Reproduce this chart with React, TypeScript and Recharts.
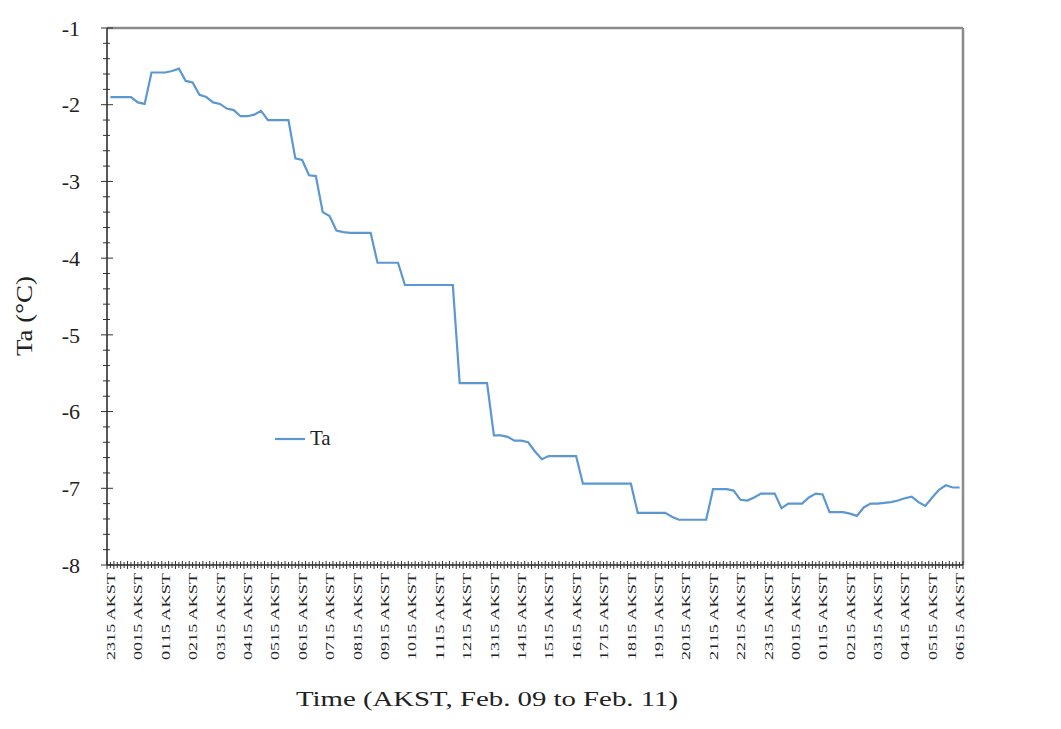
import React from "react";
import { LineChart, Line, XAxis, YAxis, ReferenceLine, Legend } from "recharts";

// hourly tick labels, one every 4 samples (15-min data)
const hourLabels = [
  "2315", "0015", "0115", "0215", "0315", "0415", "0515", "0615",
  "0715", "0815", "0915", "1015", "1115", "1215", "1315", "1415",
  "1515", "1615", "1715", "1815", "1915", "2015", "2115", "2215",
  "2315", "0015", "0115", "0215", "0315", "0415", "0515", "0615",
];

// air temperature (°C), 15-minute samples
const ta = [
  -1.9, -1.9, -1.9, -1.9, -1.97, -1.99, -1.58, -1.58, -1.58, -1.56,
  -1.53, -1.69, -1.71, -1.87, -1.9, -1.97, -1.99, -2.05, -2.07, -2.15,
  -2.15, -2.13, -2.08, -2.2, -2.2, -2.2, -2.2, -2.7, -2.72, -2.92,
  -2.93, -3.4, -3.45, -3.64, -3.66, -3.67, -3.67, -3.67, -3.67, -4.06,
  -4.06, -4.06, -4.06, -4.35, -4.35, -4.35, -4.35, -4.35, -4.35, -4.35,
  -4.35, -5.63, -5.63, -5.63, -5.63, -5.63, -6.31, -6.31, -6.33, -6.38,
  -6.38, -6.4, -6.52, -6.62, -6.58, -6.58, -6.58, -6.58, -6.58, -6.94,
  -6.94, -6.94, -6.94, -6.94, -6.94, -6.94, -6.94, -7.32, -7.32, -7.32,
  -7.32, -7.32, -7.37, -7.41, -7.41, -7.41, -7.41, -7.41, -7.01, -7.01,
  -7.01, -7.03, -7.15, -7.16, -7.12, -7.07, -7.07, -7.07, -7.26, -7.2,
  -7.2, -7.2, -7.12, -7.07, -7.08, -7.31, -7.31, -7.31, -7.33, -7.36,
  -7.25, -7.2, -7.2, -7.19, -7.18, -7.16, -7.13, -7.11, -7.18, -7.23,
  -7.12, -7.02, -6.96, -6.99, -6.99,
];

const data = ta.map((v, i) => ({ i, ta: v }));
const n = ta.length;

// ticks at every slot boundary and slot centre
const xTicks: number[] = [];
for (let k = 0; k <= 2 * n; k++) xTicks.push(-0.5 + k * 0.5);
const yMinor: number[] = [];
for (let k = 0; k <= 35; k++) yMinor.push(Math.round((-8 + k * 0.2) * 10) / 10);

const serif = "'Liberation Serif', 'Times New Roman', serif";
const LINE = "#5b97d2";

const XTick = (props: any) => {
  const { x, y, payload } = props;
  const v = payload.value;
  const isCenter = Number.isInteger(v);
  const showLabel = isCenter && v % 4 === 0;
  return (
    <g>
      <line x1={x} x2={x} y1={y - (isCenter ? 3 : 4)} y2={y + (isCenter ? 3 : 4)} stroke="#333" strokeWidth={1} />
      {showLabel && (
        <text
          x={x}
          y={y + 8}
          transform={`rotate(-90, ${x}, ${y + 8})`}
          textAnchor="end"
          dy="0.36em"
          fontFamily={serif}
          fontSize={13}
          fill="#222"
          textLength={87}
          lengthAdjust="spacingAndGlyphs"
        >
          {hourLabels[v / 4] + " AKST"}
        </text>
      )}
    </g>
  );
};

const YTick = (props: any) => {
  const { x, y, payload } = props;
  const v = payload.value;
  const major = Math.abs(v - Math.round(v)) < 1e-6;
  return (
    <g>
      <line x1={x - (major ? 6 : 4)} x2={x + (major ? 6 : 3)} y1={y} y2={y} stroke="#333" strokeWidth={1} />
      {major && (
        <text x={x - 27} y={y} dy="0.35em" textAnchor="end" fontFamily={serif} fontSize={22} fill="#222">
          {Math.round(v)}
        </text>
      )}
    </g>
  );
};

const XTitle = (props: any) => {
  const { viewBox } = props;
  return (
    <text
      x={viewBox.x + 380}
      y={viewBox.y + 141}
      textAnchor="middle"
      fontFamily={serif}
      fontSize={22}
      fill="#222"
      textLength={382}
      lengthAdjust="spacingAndGlyphs"
    >
      Time (AKST, Feb. 09 to Feb. 11)
    </text>
  );
};

const YTitle = (props: any) => {
  const { viewBox } = props;
  const cx = 32;
  const cy = viewBox.y + 288;
  return (
    <text
      x={cx}
      y={cy}
      transform={`rotate(-90, ${cx}, ${cy})`}
      textAnchor="middle"
      fontFamily={serif}
      fontSize={23}
      fill="#222"
      textLength={80}
      lengthAdjust="spacingAndGlyphs"
    >
      Ta (°C)
    </text>
  );
};

const LegendBox = () => (
  <div style={{ display: "flex", alignItems: "center", fontFamily: serif, fontSize: 21, color: "#222" }}>
    <svg width={32} height={10}>
      <line x1={0} x2={30} y1={5} y2={5} stroke={LINE} strokeWidth={2.2} />
    </svg>
    <span style={{ marginLeft: 3 }}>Ta</span>
  </div>
);

export default function App() {
  return (
    <div style={{ position: "absolute", left: 0, top: 0, width: 1061, height: 729, background: "#fff" }}>
      <LineChart width={1061} height={729} data={data} margin={{ top: 28, right: 98, left: 0, bottom: 0 }}>
        <XAxis
          dataKey="i"
          type="number"
          domain={[-0.5, n - 0.5]}
          ticks={xTicks}
          interval={0}
          tick={<XTick />}
          tickLine={false}
          tickSize={0}
          tickMargin={0}
          height={164}
          axisLine={{ stroke: "#222", strokeWidth: 1.5 }}
          allowDataOverflow
          label={<XTitle />}
        />
        <YAxis
          type="number"
          domain={[-8, -1]}
          ticks={yMinor}
          interval={0}
          tick={<YTick />}
          tickLine={false}
          tickSize={0}
          tickMargin={0}
          width={107}
          axisLine={{ stroke: "#222", strokeWidth: 1.5 }}
          allowDataOverflow
          label={<YTitle />}
        />
        <ReferenceLine y={-1} stroke="#8a8a8a" strokeWidth={2.5} />
        <ReferenceLine x={n - 0.5} stroke="#8a8a8a" strokeWidth={2.5} />
        <Legend
          verticalAlign="middle"
          align="center"
          layout="horizontal"
          content={<LegendBox />}
          wrapperStyle={{ left: 275, top: 426, width: "auto" }}
        />
        <Line
          type="linear"
          dataKey="ta"
          name="Ta"
          stroke={LINE}
          strokeWidth={2.2}
          dot={false}
          isAnimationActive={false}
        />
      </LineChart>
    </div>
  );
}
